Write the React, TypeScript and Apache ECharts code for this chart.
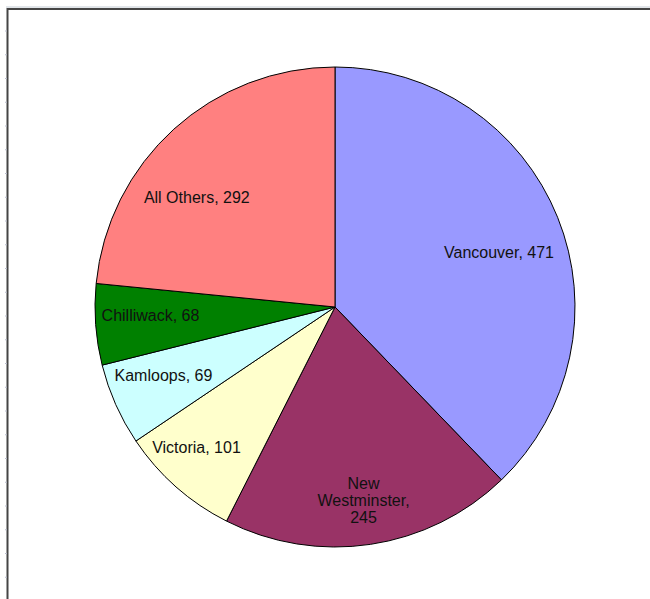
import React, { useEffect, useRef } from "react";
import * as echarts from "echarts";

const categories = ["Vancouver", "New Westminster", "Victoria", "Kamloops", "Chilliwack", "All Others"];
const values = [471, 245, 101, 69, 68, 292];
const colors = ["#9999FF", "#993366", "#FFFFCC", "#CCFFFF", "#008000", "#FF8080"];

export default function App() {
  const ref = useRef<HTMLDivElement>(null);
  useEffect(() => {
    const chart = echarts.init(ref.current!, null, { renderer: "svg" });
    const ticks: any[] = [];
    for (let i = 0; i < 24; i++) {
      const y = 31 + i * 23.75;
      ticks.push({
        type: "line",
        shape: { x1: 5, y1: y, x2: 7, y2: y },
        style: { stroke: "#b8bccc", lineWidth: 1 },
        silent: true,
      });
    }
    // small nudges to mimic the original label placement
    const nudges: [number, number][] = [[-2, 9], [2, 13], [-20, 3], [-8, -7], [-6, -8], [-18, 20]];
    chart.setOption({
      animation: false,
      backgroundColor: "#ffffff",
      graphic: [
        { type: "line", shape: { x1: 6, y1: 7, x2: 650, y2: 7 }, style: { stroke: "#c4ccd4", lineWidth: 1 }, silent: true },
        { type: "line", shape: { x1: 7.5, y1: 9, x2: 650, y2: 9 }, style: { stroke: "#454545", lineWidth: 2 }, silent: true },
        { type: "line", shape: { x1: 7.5, y1: 8, x2: 7.5, y2: 599 }, style: { stroke: "#454545", lineWidth: 2 }, silent: true },
        ...ticks,
      ],
      series: [
        {
          type: "pie",
          center: [335, 307],
          radius: 240,
          startAngle: 90,
          clockwise: true,
          silent: true,
          label: { show: false },
          labelLine: { show: false },
          itemStyle: { borderColor: "#000000", borderWidth: 1 },
          data: categories.map((c, i) => ({ name: c, value: values[i], itemStyle: { color: colors[i] } })),
        },
        {
          type: "pie",
          center: [335, 310],
          radius: [112, 240],
          startAngle: 90,
          clockwise: true,
          silent: true,
          avoidLabelOverlap: false,
          itemStyle: { color: "rgba(0,0,0,0)", borderWidth: 0 },
          labelLine: { show: false },
          labelLayout: (p: any) => ({ dx: nudges[p.dataIndex][0], dy: nudges[p.dataIndex][1] }),
          label: {
            show: true,
            position: "inside",
            color: "#111111",
            fontFamily: "Liberation Sans, Arial, sans-serif",
            fontSize: 16,
            lineHeight: 17,
            align: "center",
            formatter: (p: any) =>
              p.name.length > 12 ? p.name.replace(" ", "\n") + ",\n" + p.value : p.name + ", " + p.value,
          },
          data: categories.map((c, i) => ({ name: c, value: values[i] })),
        },
      ],
    });
    return () => chart.dispose();
  }, []);
  return <div ref={ref} style={{ position: "fixed", left: 0, top: 0, width: 650, height: 599 }} />;
}
